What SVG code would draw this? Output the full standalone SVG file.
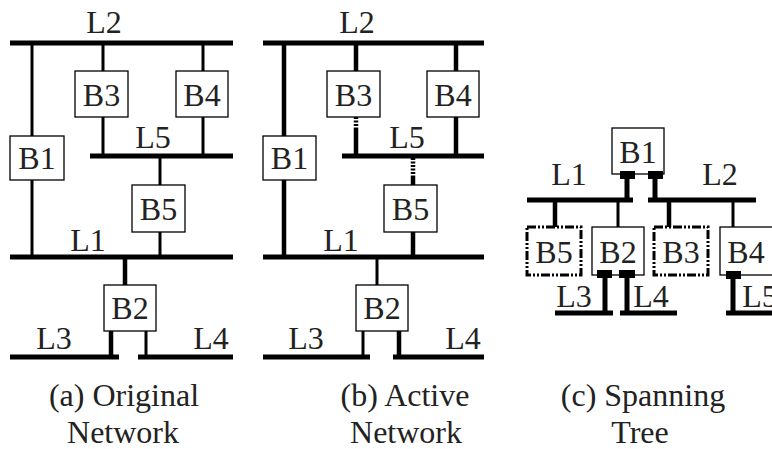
<svg xmlns="http://www.w3.org/2000/svg" width="772" height="449" viewBox="0 0 772 449">
<style>
.bg{fill:#fff}
.box{fill:#fff;stroke:#000;stroke-width:1.3}
.dbox{fill:#fff;stroke:#000;stroke-width:3;stroke-dasharray:9 2 2 2 2 2}
.bus{stroke:#000;stroke-width:5;fill:none}
.ln{stroke:#000;stroke-width:3;fill:none}
.tk{stroke:#000;stroke-width:4.5;fill:none}
.dl{stroke:#000;stroke-width:4.5;fill:none;stroke-dasharray:2 1.5}
.t{font-family:"Liberation Serif","Times New Roman",serif;font-size:32px;fill:#222;text-anchor:middle}
.c{font-family:"Liberation Serif","Times New Roman",serif;font-size:32px;fill:#222;text-anchor:middle}
</style>
<rect class="bg" width="772" height="449"/>
<g id="connectors">
<line class="bus" x1="10" y1="43" x2="233" y2="43"/>
<line class="bus" x1="90" y1="156" x2="233" y2="156"/>
<line class="bus" x1="10" y1="257" x2="233" y2="257"/>
<line class="bus" x1="10" y1="357" x2="119" y2="357"/>
<line class="bus" x1="138" y1="357" x2="233" y2="357"/>
<line class="ln" x1="32" y1="43" x2="32" y2="136"/>
<line class="ln" x1="32" y1="180" x2="32" y2="257"/>
<line class="ln" x1="103" y1="43" x2="103" y2="71"/>
<line class="ln" x1="103" y1="117" x2="103" y2="156"/>
<line class="ln" x1="203" y1="43" x2="203" y2="71"/>
<line class="ln" x1="203" y1="117" x2="203" y2="156"/>
<line class="ln" x1="160" y1="156" x2="160" y2="185"/>
<line class="ln" x1="160" y1="232" x2="160" y2="257"/>
<line class="tk" x1="125" y1="257" x2="125" y2="285"/>
<line class="tk" x1="111" y1="331" x2="111" y2="357"/>
<line class="ln" x1="146" y1="331" x2="146" y2="357"/>
<line class="bus" x1="263" y1="43" x2="484" y2="43"/>
<line class="bus" x1="342" y1="156" x2="484" y2="156"/>
<line class="bus" x1="263" y1="257" x2="484" y2="257"/>
<line class="bus" x1="263" y1="357" x2="370" y2="357"/>
<line class="bus" x1="393" y1="357" x2="484" y2="357"/>
<line class="tk" x1="284" y1="43" x2="284" y2="136"/>
<line class="tk" x1="284" y1="180" x2="284" y2="257"/>
<line class="tk" x1="356" y1="43" x2="356" y2="71"/>
<line class="dl" x1="356" y1="117" x2="356" y2="128"/>
<line class="tk" x1="356" y1="128" x2="356" y2="156"/>
<line class="tk" x1="456" y1="43" x2="456" y2="71"/>
<line class="tk" x1="456" y1="117" x2="456" y2="156"/>
<line class="dl" x1="413" y1="158" x2="413" y2="176"/>
<line class="tk" x1="413" y1="176" x2="413" y2="185"/>
<line class="tk" x1="413" y1="232" x2="413" y2="257"/>
<line class="ln" x1="377" y1="257" x2="377" y2="285"/>
<line class="ln" x1="363" y1="331" x2="363" y2="357"/>
<line class="tk" x1="399" y1="331" x2="399" y2="357"/>
<line class="bus" x1="527" y1="200" x2="633" y2="200"/>
<line class="bus" x1="648" y1="200" x2="756" y2="200"/>
<line class="bus" x1="555" y1="313" x2="613" y2="313"/>
<line class="bus" x1="620" y1="313" x2="677" y2="313"/>
<line class="bus" x1="726" y1="313" x2="772" y2="313"/>
<line class="bus" x1="627" y1="178" x2="627" y2="200"/>
<line class="bus" x1="655" y1="178" x2="655" y2="200"/>
<line class="tk" x1="555" y1="200" x2="555" y2="227"/>
<line class="ln" x1="618" y1="200" x2="618" y2="227"/>
<line class="tk" x1="669" y1="200" x2="669" y2="227"/>
<line class="ln" x1="733" y1="200" x2="733" y2="227"/>
<line class="bus" x1="605" y1="277" x2="605" y2="313"/>
<line class="bus" x1="627" y1="277" x2="627" y2="313"/>
<line class="bus" x1="733" y1="277" x2="733" y2="313"/>
</g>
<g id="a-B1"><rect class="box" x="10" y="136" width="54" height="44"/><text class="t" x="37" y="169">B1</text></g>
<g id="a-B3"><rect class="box" x="75" y="71" width="53" height="46"/><text class="t" x="101.5" y="106">B3</text></g>
<g id="a-B4"><rect class="box" x="176" y="71" width="52" height="46"/><text class="t" x="202" y="106">B4</text></g>
<g id="a-B5"><rect class="box" x="132" y="185" width="53" height="47"/><text class="t" x="158.5" y="220">B5</text></g>
<g id="a-B2"><rect class="box" x="104" y="285" width="52" height="46"/><text class="t" x="130" y="319">B2</text></g>
<g id="b-B1"><rect class="box" x="263" y="136" width="53" height="44"/><text class="t" x="289.5" y="169">B1</text></g>
<g id="b-B3"><rect class="box" x="327" y="71" width="53" height="46"/><text class="t" x="353.5" y="106">B3</text></g>
<g id="b-B4"><rect class="box" x="427" y="71" width="52" height="46"/><text class="t" x="453" y="106">B4</text></g>
<g id="b-B5"><rect class="box" x="384" y="185" width="53" height="47"/><text class="t" x="410.5" y="220">B5</text></g>
<g id="b-B2"><rect class="box" x="356" y="285" width="52" height="46"/><text class="t" x="382" y="319">B2</text></g>
<g id="c-B1"><rect class="box" x="612" y="128" width="52" height="46"/><text class="t" x="638" y="163">B1</text><rect x="620" y="171" width="15" height="8"/><rect x="648" y="171" width="15" height="8"/></g>
<g id="c-B5"><rect class="dbox" x="527" y="227" width="54" height="48"/><text class="t" x="554" y="263">B5</text></g>
<g id="c-B2"><rect class="box" x="592" y="227" width="52" height="48"/><text class="t" x="618" y="263">B2</text><rect x="597" y="270" width="15" height="8"/><rect x="619" y="270" width="16" height="8"/></g>
<g id="c-B3"><rect class="dbox" x="654" y="227" width="54" height="48"/><text class="t" x="681" y="263">B3</text></g>
<g id="c-B4"><rect class="box" x="720" y="227" width="53" height="48"/><text class="t" x="746" y="263">B4</text><rect x="726" y="271" width="15" height="8"/></g>
<g id="labels">
<text class="t" x="104" y="33">L2</text>
<text class="t" x="153" y="148">L5</text>
<text class="t" x="88" y="251">L1</text>
<text class="t" x="54" y="349">L3</text>
<text class="t" x="211" y="349">L4</text>
<text class="t" x="357" y="33">L2</text>
<text class="t" x="407" y="148">L5</text>
<text class="t" x="341" y="251">L1</text>
<text class="t" x="306" y="349">L3</text>
<text class="t" x="463" y="349">L4</text>
<text class="t" x="569" y="185">L1</text>
<text class="t" x="720" y="185">L2</text>
<text class="t" x="574" y="307">L3</text>
<text class="t" x="651" y="307">L4</text>
<text class="t" x="760" y="307">L5</text>
</g>
<g id="captions">
<text class="c" x="124" y="406">(a) Original</text>
<text class="c" x="123" y="443">Network</text>
<text class="c" x="405" y="406">(b) Active</text>
<text class="c" x="406" y="443">Network</text>
<text class="c" x="643" y="406">(c) Spanning</text>
<text class="c" x="640" y="443">Tree</text>
</g>
</svg>
